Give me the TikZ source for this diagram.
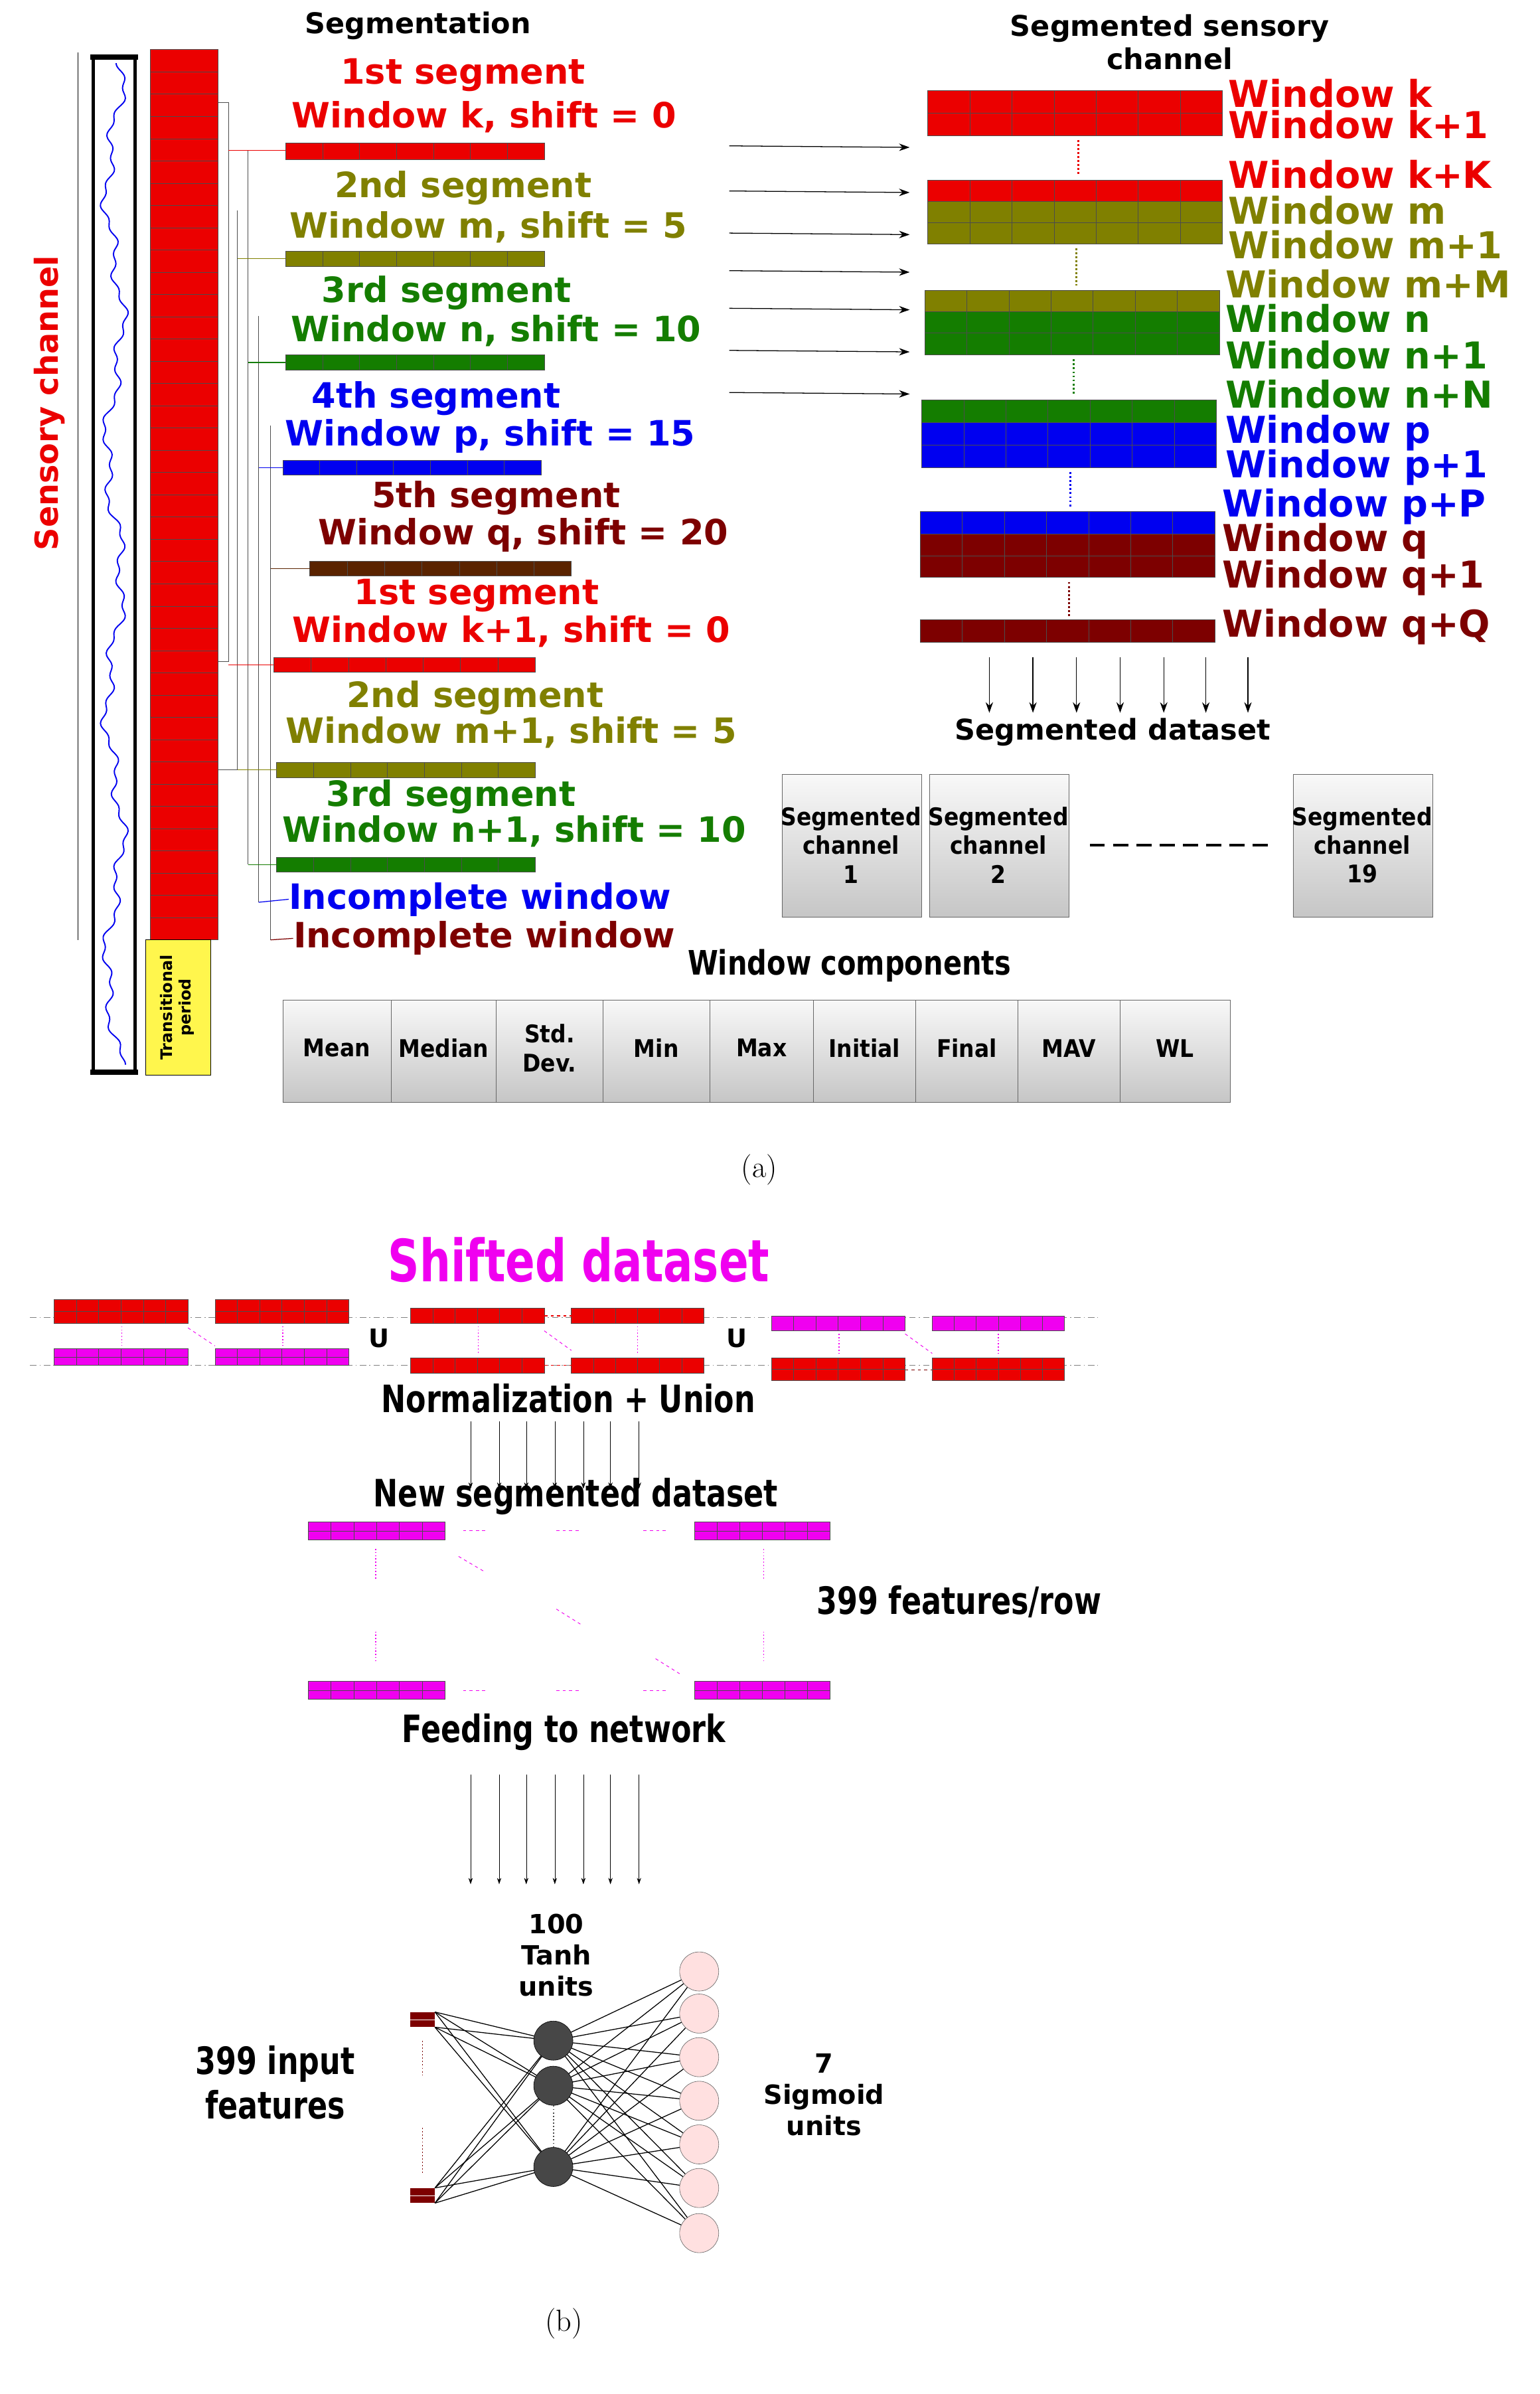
\documentclass[tikz,border=0pt]{standalone}
\usepackage{fontspec}
\setmainfont{DejaVu Sans}
\newfontfamily\cond{DejaVu Sans Condensed}
\newfontfamily\serifx{Latin Modern Roman}
\usetikzlibrary{arrows.meta}
\definecolor{cred}{RGB}{235,0,0}
\definecolor{colive}{RGB}{128,128,0}
\definecolor{cgreen}{RGB}{20,125,0}
\definecolor{cblue}{RGB}{0,0,240}
\definecolor{cdred}{RGB}{125,0,0}
\definecolor{cbrown}{RGB}{90,35,0}
\definecolor{cmag}{RGB}{240,0,240}
\newcommand\fs[1]{\fontsize{#1}{1.18\dimexpr#1pt\relax}\selectfont}
% bar: x1 y1 x2 y2 color ncols nrows
\newcommand\sbar[7]{%
  \draw[fill=#5,draw=black!70,line width=0.4pt] (#1,#2) rectangle (#3,#4);
  \pgfmathsetmacro\dx{(#3-#1)/#6}
  \foreach \i in {1,...,\numexpr#6-1\relax}{\draw[black!70,line width=0.4pt] ({#1+\i*\dx},#2) -- ({#1+\i*\dx},#4);}
  \ifnum#7>1 \pgfmathsetmacro\dy{(#4-#2)/#7}
  \foreach \j in {1,...,\numexpr#7-1\relax}{\draw[black!70,line width=0.4pt] (#1,{#2+\j*\dy}) -- (#3,{#2+\j*\dy});}\fi}
\tikzset{
  lab/.style={font=\bfseries\fs{33}, inner sep=0pt},
  win/.style={font=\bfseries\fs{35}, inner sep=0pt, anchor=west},
  head/.style={font=\bfseries\fs{27}, inner sep=0pt, align=center},
  gbox/.style={draw=gray!80!black, top color=gray!5, bottom color=gray!45},
  btxt/.style={font=\bfseries\cond\fs{23}, align=center, inner sep=0pt},
  arr/.style={-{Stealth[length=10pt,width=7pt]}, line width=0.8pt},
  arrs/.style={-{Stealth[length=6pt,width=4pt]}, line width=0.3pt},
  dotl/.style={dotted, line width=1.8pt},
  blab/.style={font=\bfseries\cond\fs{31}, inner sep=0pt, align=center, yscale=1.15},
}
\begin{document}
\begin{tikzpicture}[x=0.05cm,y=-0.05cm]
\useasboundingbox[fill=white] (0,0) rectangle (1024,1592);
% ---------------- (a) ----------------
\node[head] (tseg) at (278,17) {Segmentation};
\node[head] (tssc) at (778,28) {Segmented sensory\\channel};
\node[font=\bfseries\fs{30}, text=cred, rotate=90, inner sep=0pt] (sc) at (33,268) {Sensory channel};
\draw[line width=0.8pt] (52,35) -- (52,625);
% signal box
\draw[line width=3pt] (62,38) rectangle (90,713);
\draw[line width=5pt] (60,38) -- (92,38) (60,713) -- (92,713);
\draw[cblue, line width=1.2pt] plot[domain=42:708, samples=400, smooth] ({76+5*sin(\x*2.1)+3*sin(\x*7.3)+1.5*sin(\x*23)}, \x);
% red column
\sbar{100}{33}{145}{625}{cred}{1}{40}
\draw[fill=yellow!70, draw=black] (97,625) rectangle (140,715);
\node[font=\bfseries\fs{15}, rotate=90, align=center, inner sep=0pt] (tp) at (118,670) {Transitional\\period};
% bracket lines
\foreach \x/\a/\b in {152/68/440, 158/140/512, 165/100/575, 172/210/600, 180/283/625}{\draw[black!70,line width=0.6pt] (\x,\a) -- (\x,\b);}
\draw[black!70,line width=0.6pt] (145,68) -- (152,68);
\draw[black!70,line width=0.6pt] (145,440) -- (152,440);
\draw[black!70,line width=0.6pt] (145,512) -- (158,512);
% segments
\node[lab,text=cred] (s1) at (308,50) {1st segment};
\node[lab,text=cred] (w1) at (322,78) {Window k, shift = 0};
\sbar{190}{95}{362}{106}{cred}{7}{1}
\draw[cred,line width=0.8pt] (152,100) -- (190,100);
\node[lab,text=colive] (s2) at (308,125) {2nd segment};
\node[lab,text=colive] (w2) at (325,151) {Window m, shift = 5};
\sbar{190}{167}{362}{177}{colive}{7}{1}
\draw[colive,line width=0.8pt] (158,172) -- (190,172);
\node[lab,text=cgreen] (s3) at (297,195) {3rd segment};
\node[lab,text=cgreen] (w3) at (330,220) {Window n, shift = 10};
\sbar{190}{236}{362}{246}{cgreen}{7}{1}
\draw[cgreen,line width=0.8pt] (165,241) -- (190,241);
\node[lab,text=cblue] (s4) at (290,265) {4th segment};
\node[lab,text=cblue] (w4) at (326,290) {Window p, shift = 15};
\sbar{188}{306}{360}{316}{cblue}{7}{1}
\draw[cblue,line width=0.8pt] (172,311) -- (188,311);
\node[lab,text=cdred] (s5) at (330,331) {5th segment};
\node[lab,text=cdred] (w5) at (348,356) {Window q, shift = 20};
\sbar{206}{373}{380}{383}{cbrown}{7}{1}
\draw[cbrown,line width=0.8pt] (180,378) -- (206,378);
\node[lab,text=cred] (s6) at (317,396) {1st segment};
\node[lab,text=cred] (w6) at (340,420) {Window k+1, shift = 0};
\sbar{182}{437}{356}{447}{cred}{7}{1}
\draw[cred,line width=0.8pt] (152,442) -- (182,442);
\node[lab,text=colive] (s7) at (316,464) {2nd segment};
\node[lab,text=colive] (w7) at (340,487) {Window m+1, shift = 5};
\sbar{184}{507}{356}{517}{colive}{7}{1}
\draw[colive,line width=0.8pt] (158,512) -- (184,512);
\node[lab,text=cgreen] (s8) at (300,530) {3rd segment};
\node[lab,text=cgreen] (w8) at (342,553) {Window n+1, shift = 10};
\sbar{184}{570}{356}{580}{cgreen}{7}{1}
\draw[cgreen,line width=0.8pt] (165,575) -- (184,575);
\node[lab,text=cblue,anchor=west] (i1) at (192,598) {Incomplete window};
\draw[cblue,line width=0.8pt] (172,600) -- (i1.west);
\node[lab,text=cdred,anchor=west] (i2) at (195,624) {Incomplete window};
\draw[cdred,line width=0.8pt] (180,625) -- (i2.west);
% arrows
\foreach \y [count=\k] in {97,127,155,180,205,233,261}{
  \coordinate (as\k) at (485,\y); \coordinate (ae\k) at (605,\y+1);
  \draw[arr] (as\k) -- (ae\k);}
% right column
\sbar{617}{60}{813}{90}{cred}{7}{2}
\node[win,text=cred] (rk) at (817,62) {Window k};
\node[win,text=cred] (rk1) at (817,83) {Window k+1};
\draw[dotl,cred] (717,93) -- (717,117);
\sbar{617}{120}{813}{134}{cred}{7}{1}
\sbar{617}{134}{813}{162}{colive}{7}{2}
\node[win,text=cred] (rkK) at (817,116) {Window k+K};
\node[win,text=colive] (rm) at (817,140) {Window m};
\node[win,text=colive] (rm1) at (817,163) {Window m+1};
\draw[dotl,colive] (716,165) -- (716,190);
\sbar{615}{193}{811}{207}{colive}{7}{1}
\sbar{615}{207}{811}{236}{cgreen}{7}{2}
\node[win,text=colive] (rmM) at (815,189) {Window m+M};
\node[win,text=cgreen] (rn) at (815,212) {Window n};
\node[win,text=cgreen] (rn1) at (815,236) {Window n+1};
\draw[dotl,cgreen] (714,239) -- (714,262);
\sbar{613}{266}{809}{281}{cgreen}{7}{1}
\sbar{613}{281}{809}{311}{cblue}{7}{2}
\node[win,text=cgreen] (rnN) at (815,262) {Window n+N};
\node[win,text=cblue] (rp) at (815,288) {Window p};
\node[win,text=cblue] (rp1) at (815,311) {Window p+1};
\draw[dotl,cblue] (712,314) -- (712,338);
\sbar{612}{340}{808}{355}{cblue}{7}{1}
\sbar{612}{355}{808}{384}{cdred}{7}{2}
\node[win,text=cblue] (rpP) at (813,337) {Window p+P};
\node[win,text=cdred] (rq) at (813,360) {Window q};
\node[win,text=cdred] (rq1) at (813,384) {Window q+1};
\draw[dotl,cdred] (711,387) -- (711,410);
\sbar{612}{412}{808}{427}{cdred}{7}{1}
\node[win,text=cdred] (rqQ) at (813,417) {Window q+Q};
\foreach \x [count=\k] in {658,687,716,745,774,802,830}{
  \coordinate (ds\k) at (\x,437); \coordinate (de\k) at (\x,474);
  \draw[arr] (ds\k) -- (de\k);}
\node[head] (sds) at (740,487) {Segmented dataset};
\draw[gbox] (520,515) rectangle (613,610);
\node[btxt] (c1t) at (566,562) {Segmented\\channel\\1};
\draw[gbox] (618,515) rectangle (711,610);
\node[btxt] (c2t) at (664,562) {Segmented\\channel\\2};
\draw[gbox] (860,515) rectangle (953,610);
\node[btxt] (c3t) at (906,562) {Segmented\\channel\\19};
\draw[dash pattern=on 14pt off 8pt, line width=2pt] (725,562) -- (845,562);
\node[font=\bfseries\cond\fs{29}, inner sep=0pt, yscale=1.1] (wc) at (565,642) {Window components};
\foreach \a/\b/\t [count=\k] in {188/260/Mean,260/330/Median,330/401/{Std.\\Dev.},401/472/Min,472/541/Max,541/609/Initial,609/677/Final,677/745/MAV,745/818/WL}{
  \draw[gbox] (\a,665) rectangle (\b,733);
  \node[btxt] (wcb\k) at ({(\a+\b)/2},697) {\t};}
\node[font=\serifx\fs{29}] (la) at (505,778) {(a)};
% ---------------- (b) ----------------
\node[font=\bfseries\cond\fs{46}, text=cmag, inner sep=0pt, yscale=1.2] (shd) at (385,838) {Shifted dataset};
\draw[gray, dash pattern=on 6pt off 3pt on 1pt off 3pt, line width=0.5pt] (20,876) -- (730,876);
\draw[gray, dash pattern=on 6pt off 3pt on 1pt off 3pt, line width=0.5pt] (20,908) -- (730,908);
\sbar{36}{864}{125}{880}{cred}{6}{2}
\sbar{143}{864}{232}{880}{cred}{6}{2}
\sbar{36}{897}{125}{908}{cmag}{6}{2}
\sbar{143}{897}{232}{908}{cmag}{6}{2}
\draw[cmag,dotted,line width=1pt] (81,882) -- (81,895) (188,882) -- (188,895);
\draw[cmag,dashed,line width=0.6pt] (125,883) -- (143,895);
\node[font=\bfseries\fs{24}] (u1) at (252,890) {U};
\sbar{273}{870}{362}{880}{cred}{6}{1}
\sbar{380}{870}{468}{880}{cred}{6}{1}
\sbar{273}{903}{362}{913}{cred}{6}{1}
\sbar{380}{903}{468}{913}{cred}{6}{1}
\draw[cmag,dotted,line width=1pt] (318,882) -- (318,900) (424,882) -- (424,900);
\draw[cmag,dashed,line width=0.6pt] (362,885) -- (380,898);
\draw[cred,dashed,line width=0.8pt] (362,875) -- (380,875) (362,908) -- (380,908);
\node[font=\bfseries\fs{24}] (u2) at (490,890) {U};
\sbar{513}{875}{602}{885}{cmag}{6}{1}
\sbar{620}{875}{708}{885}{cmag}{6}{1}
\sbar{513}{903}{602}{918}{cred}{6}{2}
\sbar{620}{903}{708}{918}{cred}{6}{2}
\draw[cmag,dotted,line width=1pt] (558,887) -- (558,901) (664,887) -- (664,901);
\draw[cmag,dashed,line width=0.6pt] (602,887) -- (620,900);
\draw[cdred,dashed,line width=0.8pt] (602,911) -- (620,911);
\node[blab] (nu) at (378,930) {Normalization + Union};
\foreach \x [count=\k] in {313,332,350,369,388,406,425}{
  \coordinate (ns\k) at (\x,945); \coordinate (ne\k) at (\x,990);
  \draw[arrs] (ns\k) -- (ne\k);}
\node[blab] (nsd) at (383,995) {New segmented dataset};
\sbar{205}{1012}{296}{1024}{cmag}{6}{2}
\sbar{462}{1012}{552}{1024}{cmag}{6}{2}
\sbar{205}{1118}{296}{1130}{cmag}{6}{2}
\sbar{462}{1118}{552}{1130}{cmag}{6}{2}
\foreach \a in {308,370,428}{\draw[cmag,dashed,line width=0.6pt] (\a,1018) -- (\a+16,1018) (\a,1124) -- (\a+16,1124);}
\draw[cmag,dotted,line width=1pt] (250,1030) -- (250,1050) (250,1085) -- (250,1104) (508,1030) -- (508,1050) (508,1085) -- (508,1104);
\draw[cmag,dashed,line width=0.6pt] (305,1035) -- (322,1045) (370,1070) -- (386,1080) (436,1103) -- (452,1113);
\node[blab] (fpr) at (638,1065) {399 features/row};
\node[blab] (ftn) at (375,1152) {Feeding to network};
\foreach \x [count=\k] in {313,332,350,369,388,406,425}{
  \coordinate (fs\k) at (\x,1180); \coordinate (fe\k) at (\x,1253);
  \draw[arrs] (fs\k) -- (fe\k);}
\node[font=\bfseries\fs{25}, align=center, inner sep=0pt] (tanh) at (370,1300) {100\\Tanh\\units};
% network
\foreach \y [count=\k] in {1357,1387,1441}{\coordinate (h\k) at (368,\y);}
\foreach \y [count=\k] in {1311,1339,1368,1397,1426,1455,1485}{\coordinate (o\k) at (465,\y);}
\node[fill=cdred, minimum width=23pt, minimum height=14pt, inner sep=0pt] (x1) at (281,1343) {};
\node[fill=cdred, minimum width=23pt, minimum height=14pt, inner sep=0pt] (x2) at (281,1460) {};
\draw[white,line width=0.6pt] (x1.west) -- (x1.east) (x2.west) -- (x2.east);
\draw[cdred,dotted,line width=1.2pt] (281,1357) -- (281,1380) (281,1415) -- (281,1445);
\foreach \i in {1,2}{\foreach \h in {1,2,3}{
  \draw[line width=0.8pt] (x\i.north east) -- (h\h); \draw[line width=0.8pt] (x\i.south east) -- (h\h);}}
\foreach \h in {1,2,3}{\foreach \o in {1,...,7}{\draw[line width=0.8pt] (h\h) -- (o\o);}}
\foreach \h in {1,2,3}{\node[circle, fill=black!72, draw=black, minimum size=37pt, inner sep=0pt] (hn\h) at (h\h) {};}
\foreach \o in {1,...,7}{\node[circle, fill=red!12, draw=black!60, minimum size=37pt, inner sep=0pt] (on\o) at (o\o) {};}
\draw[black!70,dotted,line width=1.2pt] (hn2.south) -- (hn3.north);
\node[blab] (inf) at (183,1385) {399 input\\features};
\node[font=\bfseries\fs{25}, align=center, inner sep=0pt] (sig) at (548,1393) {7\\Sigmoid\\units};
\node[font=\serifx\fs{29}] (lb) at (375,1545) {(b)};
\end{tikzpicture}
\end{document}
